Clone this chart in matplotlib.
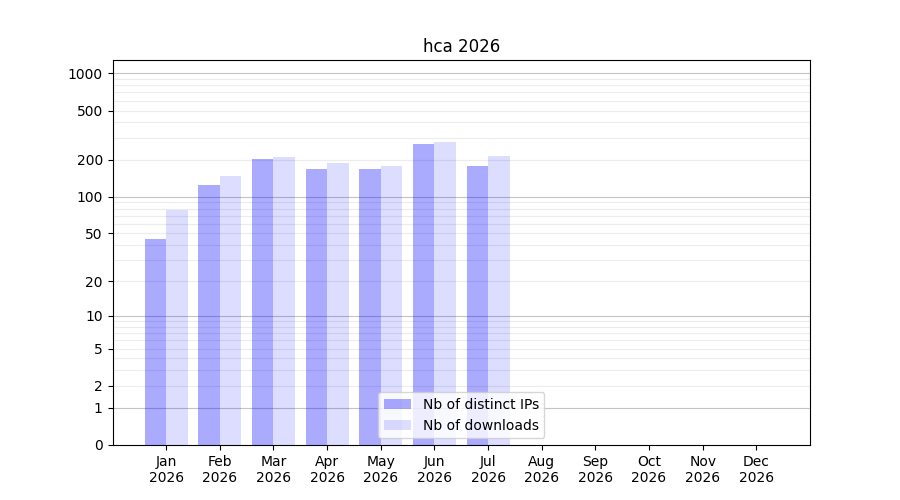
import numpy as np
import matplotlib
matplotlib.use("Agg")
import matplotlib.pyplot as plt

months = ["Jan", "Feb", "Mar", "Apr", "May", "Jun", "Jul", "Aug", "Sep", "Oct", "Nov", "Dec"]
year = "2026"
ips = [45, 124, 201, 167, 167, 266, 177]
downloads = [78, 147, 209, 187, 177, 277, 213]
yticks = [0, 1, 2, 5, 10, 20, 50, 100, 200, 500, 1000]
major_grid = [1, 10, 100, 1000]
minor_grid = [m * d for d in (1, 10, 100, 1000) for m in range(2, 10)]

fwd = lambda v: np.log10(np.clip(v, -0.999999, None) + 1)
inv = lambda v: 10 ** v - 1

fig, ax = plt.subplots(figsize=(9, 5), dpi=100)
ax.set_yscale("function", functions=(fwd, inv))

for v in minor_grid:
    if v < 1280:
        ax.axhline(v, color="#ececec", lw=0.8, zorder=0)
for v in major_grid:
    ax.axhline(v, color="#c4c4c4", lw=0.8, zorder=0)

x = np.arange(len(ips))
ax.bar(x - 0.2, ips, width=0.4, color="blue", alpha=0.333, label="Nb of distinct IPs", zorder=1)
ax.bar(x + 0.2, downloads, width=0.4, color="blue", alpha=0.133, label="Nb of downloads", zorder=1)

ax.set_ylim(0, 1280)
ax.set_xlim(-1, 12)
ax.set_yticks(yticks)
ax.set_yticklabels([str(t) for t in yticks])
ax.yaxis.set_minor_locator(matplotlib.ticker.NullLocator())
ax.set_xticks(np.arange(len(months)))
ax.set_xticklabels([f"{m}\n{year}" for m in months])
ax.set_title("hca 2026")
ax.legend(loc="lower center")
fig.savefig("out.png")
